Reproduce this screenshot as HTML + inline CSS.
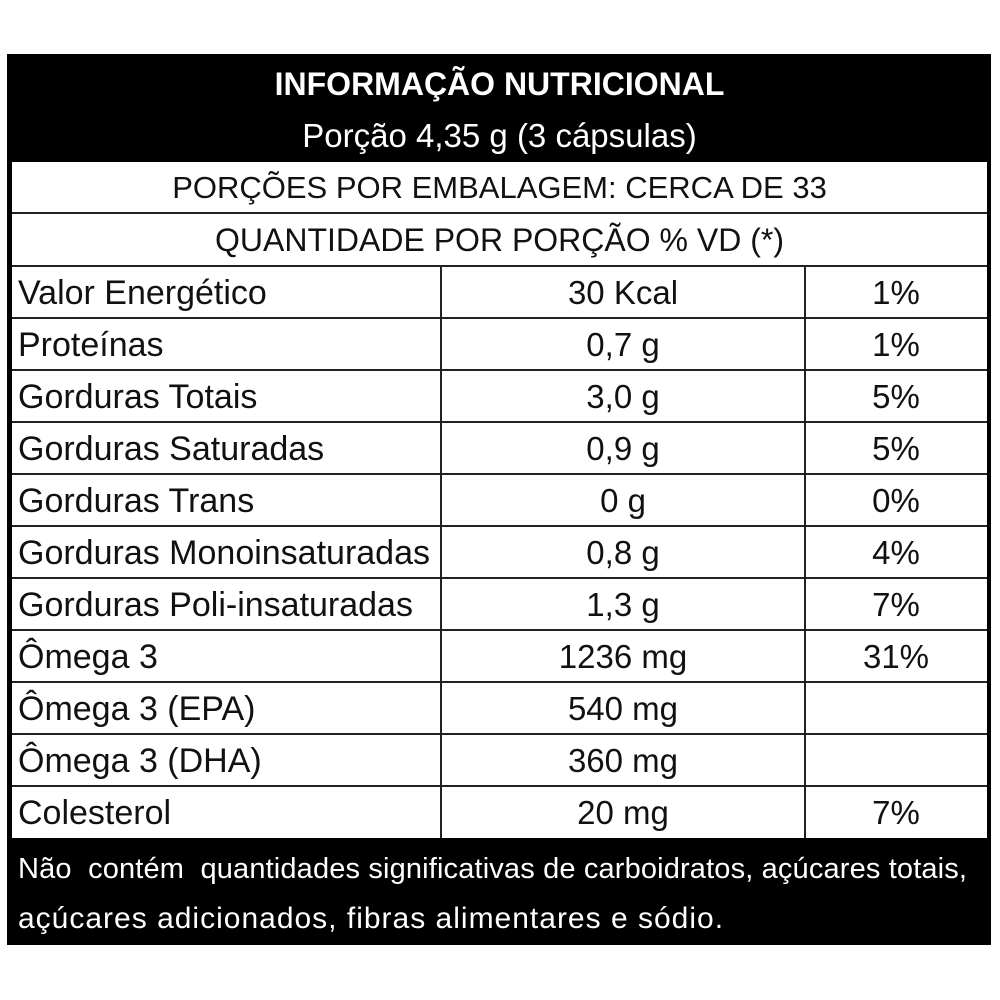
<!DOCTYPE html>
<html><head><meta charset="utf-8"><style>
body{margin:0;width:1000px;height:1000px;background:#fff;position:relative;font-family:"Liberation Sans",sans-serif;overflow:hidden}
.a{position:absolute}
.t{position:absolute;white-space:nowrap;font-size:33px;color:#111;line-height:52px}
.c{text-align:center}
.l{font-size:34px}
.hl{position:absolute;left:12px;width:975px;height:2px;background:#222}
.vl{position:absolute;width:2px;background:#222}
</style></head><body>
<div class="a" style="left:7px;top:54px;width:984px;height:891px;background:#000"></div>
<div class="a" style="left:12px;top:162px;width:975px;height:676px;background:#fff"></div>
<div class="t c" style="left:12px;width:975px;top:58px;color:#fff;font-weight:bold;font-size:32px">INFORMAÇÃO NUTRICIONAL</div>
<div class="t c" style="left:12px;width:975px;top:110px;color:#fff;font-size:33px">Porção 4,35 g (3 cápsulas)</div>
<div class="t c" style="left:12px;width:975px;top:162px;font-size:31px">PORÇÕES POR EMBALAGEM: CERCA DE 33</div>
<div class="hl" style="top:212px"></div>
<div class="t c" style="left:12px;width:975px;top:214px;font-size:32px">QUANTIDADE POR PORÇÃO % VD (*)</div>
<div class="hl" style="top:265px"></div>
<div class="vl" style="left:440px;top:266px;height:572px"></div>
<div class="vl" style="left:804px;top:266px;height:572px"></div>
<div class="hl" style="top:317px"></div><div class="hl" style="top:369px"></div><div class="hl" style="top:421px"></div><div class="hl" style="top:473px"></div><div class="hl" style="top:525px"></div><div class="hl" style="top:577px"></div><div class="hl" style="top:629px"></div><div class="hl" style="top:681px"></div><div class="hl" style="top:733px"></div><div class="hl" style="top:785px"></div>
<div class="t l" style="left:18px;top:267px">Valor Energético</div><div class="t c" style="left:442px;width:362px;top:267px">30 Kcal</div><div class="t c" style="left:806px;width:180px;top:267px">1%</div>
<div class="t l" style="left:18px;top:319px">Proteínas</div><div class="t c" style="left:442px;width:362px;top:319px">0,7 g</div><div class="t c" style="left:806px;width:180px;top:319px">1%</div>
<div class="t l" style="left:18px;top:371px">Gorduras Totais</div><div class="t c" style="left:442px;width:362px;top:371px">3,0 g</div><div class="t c" style="left:806px;width:180px;top:371px">5%</div>
<div class="t l" style="left:18px;top:423px">Gorduras Saturadas</div><div class="t c" style="left:442px;width:362px;top:423px">0,9 g</div><div class="t c" style="left:806px;width:180px;top:423px">5%</div>
<div class="t l" style="left:18px;top:475px">Gorduras Trans</div><div class="t c" style="left:442px;width:362px;top:475px">0 g</div><div class="t c" style="left:806px;width:180px;top:475px">0%</div>
<div class="t l" style="left:18px;top:527px">Gorduras Monoinsaturadas</div><div class="t c" style="left:442px;width:362px;top:527px">0,8 g</div><div class="t c" style="left:806px;width:180px;top:527px">4%</div>
<div class="t l" style="left:18px;top:579px">Gorduras Poli-insaturadas</div><div class="t c" style="left:442px;width:362px;top:579px">1,3 g</div><div class="t c" style="left:806px;width:180px;top:579px">7%</div>
<div class="t l" style="left:18px;top:631px">Ômega 3</div><div class="t c" style="left:442px;width:362px;top:631px">1236 mg</div><div class="t c" style="left:806px;width:180px;top:631px">31%</div>
<div class="t l" style="left:18px;top:683px">Ômega 3 (EPA)</div><div class="t c" style="left:442px;width:362px;top:683px">540 mg</div>
<div class="t l" style="left:18px;top:735px">Ômega 3 (DHA)</div><div class="t c" style="left:442px;width:362px;top:735px">360 mg</div>
<div class="t l" style="left:18px;top:787px">Colesterol</div><div class="t c" style="left:442px;width:362px;top:787px">20 mg</div><div class="t c" style="left:806px;width:180px;top:787px">7%</div>
<div class="t" style="left:18px;top:844px;color:#fff;font-size:29px;line-height:50px;letter-spacing:0.15px">Não&nbsp; contém&nbsp; quantidades significativas de carboidratos, açúcares totais,</div>
<div class="t" style="left:18px;top:894px;color:#fff;font-size:30px;line-height:50px;letter-spacing:1px">açúcares adicionados, fibras alimentares e sódio.</div>
</body></html>
